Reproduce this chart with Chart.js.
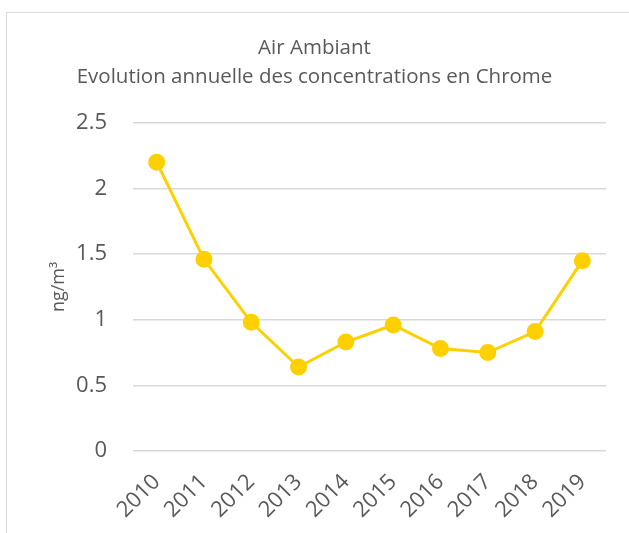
<!DOCTYPE html>
<html>
<head>
<meta charset="utf-8">
<script src="https://cdn.jsdelivr.net/npm/chart.js@4.4.0/dist/chart.umd.min.js"></script>
<style>
  body { margin: 0; background: #fff; }
  #wrap { position: relative; width: 629px; height: 533px; }
  #frame { position: absolute; left: 6px; top: 12px; width: 640px; height: 540px; border: 1px solid #d9d9d9; }
  canvas { position: absolute; left: 0; top: 0; }
</style>
</head>
<body>
<div id="wrap">
  <div id="frame"></div>
  <canvas id="chart_Cr" width="629" height="533"></canvas>
</div>
<script>
/* ------------------
    Data
-------------------*/
var years = ['2010', '2011', '2012', '2013', '2014', '2015', '2016', '2017', '2018', '2019'];
var chrome = [2.2, 1.46, 0.98, 0.64, 0.83, 0.96, 0.78, 0.75, 0.91, 1.45];
var yTicks = [0, 0.5, 1, 1.5, 2, 2.5];

var grey = '#595959';

var chart_Cr = new Chart(document.getElementById("chart_Cr"), {
    type: 'line',
    data: {
      labels: years,
      datasets: [
        {
          label: "Chrome",
          data: chrome,
          borderColor: '#FFD000',
          backgroundColor: '#FFD000',
          borderWidth: 3,
          pointRadius: 7,
          pointHoverRadius: 7,
          tension: 0
        }
      ]
    },
    options: {
      responsive: false,
      animation: false,
      layout: { padding: { left: 23, right: 23, top: 22, bottom: 0 } },
      plugins: {
        legend: { display: false },
        tooltip: { enabled: false },
        title: {
          display: true,
          text: ['Air Ambiant', 'Evolution annuelle des concentrations en Chrome'],
          color: grey,
          font: { family: 'Open Sans', size: 20.5, weight: 'normal', lineHeight: 1.41 },
          padding: { top: 12, bottom: 31 }
        }
      },
      scales: {
        x: {
          offset: true,
          grid: { display: false },
          border: { display: false },
          ticks: {
            color: grey,
            font: { family: 'Open Sans', size: 22 },
            minRotation: 45,
            maxRotation: 45,
            padding: 10
          },
          afterFit: function (scale) { scale.height = 82; }
        },
        y: {
          min: 0,
          max: 2.5,
          afterBuildTicks: function (scale) {
            scale.ticks = yTicks.map(function (v) { return { value: v }; });
          },
          grid: { color: '#d9d9d9', lineWidth: 1.5, drawTicks: false },
          border: { display: false },
          ticks: {
            color: grey,
            font: { family: 'Open Sans', size: 22 },
            padding: 26,
            callback: function (v) { return String(v); }
          },
          title: {
            display: true,
            text: 'ng/m³',
            color: grey,
            font: { family: 'Open Sans', size: 18 },
            padding: { top: 25, bottom: 0 }
          },
          afterFit: function (scale) { scale.width = 110; }
        }
      }
    }
});
</script>
</body>
</html>
